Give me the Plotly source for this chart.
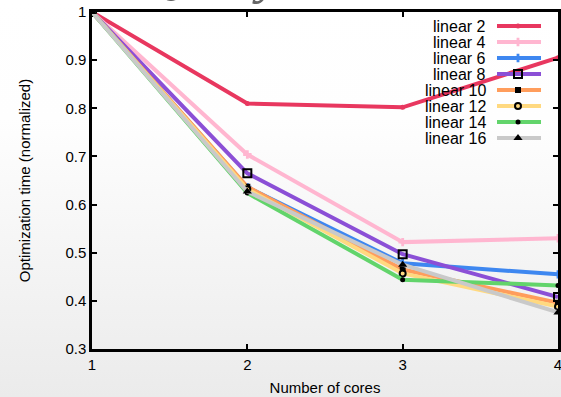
import base64
import plotly.graph_objects as go

cores = [1, 2, 3, 4]
series_names = ["linear 2", "linear 4", "linear 6", "linear 8",
                "linear 10", "linear 12", "linear 14", "linear 16"]
linear2 = [1.0, 0.810, 0.802, 0.905]
linear4 = [1.0, 0.704, 0.522, 0.530]
linear6 = [1.0, 0.636, 0.478, 0.455]
linear8 = [1.0, 0.665, 0.497, 0.408]
linear10 = [1.0, 0.637, 0.465, 0.396]
linear12 = [1.0, 0.632, 0.457, 0.388]
linear14 = [1.0, 0.624, 0.444, 0.432]
linear16 = [1.0, 0.627, 0.475, 0.376]
values = [linear2, linear4, linear6, linear8, linear10, linear12, linear14, linear16]
y_ticks = [0.3, 0.4, 0.5, 0.6, 0.7, 0.8, 0.9, 1.0]

line_colors = ["#e8375f", "#ffb6d0", "#3e87f0", "#8b4fd6",
               "#ff9d5c", "#ffd980", "#62d46b", "#c9c9c9"]
markers = [
    dict(symbol="circle", size=5, color="#e8375f"),
    dict(symbol="cross", size=7, color="#ffb6d0"),
    dict(symbol="cross", size=7, color="#3e87f0"),
    dict(symbol="square-open", size=8, color="black", line=dict(width=2, color="black")),
    dict(symbol="square", size=6, color="black"),
    dict(symbol="circle-open", size=6, color="black", line=dict(width=2, color="black")),
    dict(symbol="circle", size=5, color="black"),
    dict(symbol="triangle-up", size=8, color="black"),
]

FONT = "Liberation Sans, Arial, sans-serif"
W, H = 561, 397
ML, MR, MT, MB = 92, 3, 12, 48
PW, PH = W - ML - MR, H - MT - MB

fig = go.Figure()
for name, vals, col, mk in zip(series_names, values, line_colors, markers):
    fig.add_trace(go.Scatter(x=cores, y=vals, mode="lines+markers", name=name,
                             line=dict(color=col, width=4), marker=mk,
                             cliponaxis=True, showlegend=False))

# custom legend (text on the left of the sample, like gnuplot)
leg_x0, leg_x1, leg_xm, leg_text_x = 497, 541, 518, 488
leg_y0, leg_dy = 26, 16
annotations = []
for i, (name, col, mk) in enumerate(zip(series_names, line_colors, markers)):
    yy = leg_y0 + i * leg_dy
    fig.add_trace(go.Scatter(x=[leg_x0, leg_x1], y=[yy, yy], mode="lines",
                             line=dict(color=col, width=4), xaxis="x2", yaxis="y2",
                             showlegend=False, hoverinfo="skip"))
    fig.add_trace(go.Scatter(x=[leg_xm], y=[yy], mode="markers", marker=mk,
                             xaxis="x2", yaxis="y2", showlegend=False, hoverinfo="skip"))
    annotations.append(dict(x=leg_text_x, y=yy, xref="x2", yref="y2", text=name,
                            showarrow=False, xanchor="right", yanchor="middle",
                            font=dict(family=FONT, size=16, color="black")))

# partially visible slide title above the chart (cut off at the top, as in the source)
annotations.append(dict(x=(140 - ML) / PW, y=1 + (MT - 6) / PH, xref="paper", yref="paper",
                        text="Query", showarrow=False, xanchor="left", yanchor="bottom",
                        font=dict(family="Liberation Serif, serif", size=56, color="#666666",
                                  style="italic")))

svg = ('<svg xmlns="http://www.w3.org/2000/svg" width="561" height="397">'
       '<defs><linearGradient id="g" x1="0" y1="0" x2="0" y2="1">'
       '<stop offset="0" stop-color="#ffffff"/><stop offset="0.3" stop-color="#fefefe"/>'
       '<stop offset="1" stop-color="#ebebeb"/></linearGradient></defs>'
       '<rect width="561" height="397" fill="url(#g)"/></svg>')
src = "data:image/svg+xml;base64," + base64.b64encode(svg.encode()).decode()

fig.update_layout(
    width=W, height=H,
    margin=dict(l=ML, r=MR, t=MT, b=MB, pad=0),
    paper_bgcolor="white", plot_bgcolor="rgba(0,0,0,0)",
    font=dict(family=FONT, size=15, color="black"),
    images=[dict(source=src, xref="paper", yref="paper", x=-ML / PW, y=1 + MT / PH,
                 sizex=W / PW, sizey=H / PH, sizing="stretch",
                 xanchor="left", yanchor="top", layer="below")],
    xaxis=dict(range=[1, 4], tickvals=cores, ticktext=[str(c) for c in cores],
               ticks="inside", ticklen=5, tickwidth=2, tickcolor="black",
               showline=True, linecolor="black", linewidth=2.5, mirror="allticks",
               showgrid=False, zeroline=False, automargin=False,
               ticklabeloverflow="allow",
               title=dict(text="Number of cores", standoff=11,
                          font=dict(family=FONT, size=15))),
    yaxis=dict(range=[0.3, 1.0], tickvals=y_ticks,
               ticktext=["0.3", "0.4", "0.5", "0.6", "0.7", "0.8", "0.9", "1"],
               ticks="inside", ticklen=5, tickwidth=2, tickcolor="black",
               showline=True, linecolor="black", linewidth=2.5, mirror="allticks",
               showgrid=False, zeroline=False, automargin=False,
               ticklabeloverflow="allow",
               title=dict(text="Optimization time (normalized)", standoff=32,
                          font=dict(family=FONT, size=15))),
    xaxis2=dict(range=[ML, W - MR], overlaying="x", visible=False, fixedrange=True),
    yaxis2=dict(range=[H - MB, MT], overlaying="y", visible=False, fixedrange=True),
    annotations=annotations,
)

fig.write_html("out.html")
